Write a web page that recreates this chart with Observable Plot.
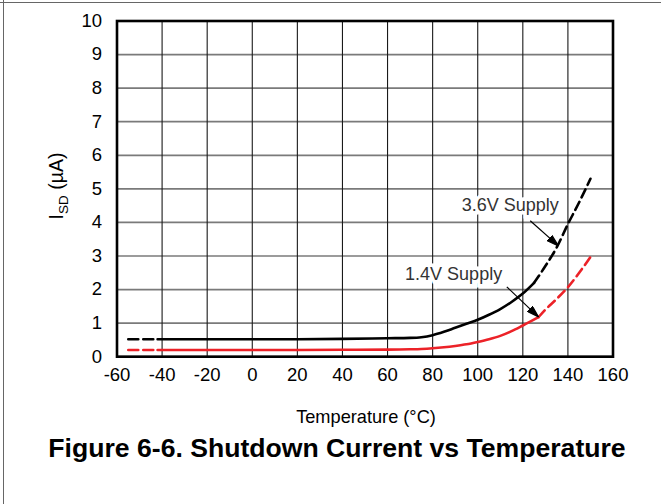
<!DOCTYPE html>
<html>
<head>
<meta charset="utf-8">
<script src="https://cdn.jsdelivr.net/npm/d3@7"></script>
<script src="https://cdn.jsdelivr.net/npm/@observablehq/plot@0.6"></script>
<style>
  html, body { margin: 0; padding: 0; background: #fff; }
  #wrap { position: relative; width: 661px; height: 504px; overflow: hidden; background: #fff; }
  #frameTop { position: absolute; left: 0; top: 2px; width: 661px; height: 0; border-top: 1.6px solid #666; }
  #frameLeft { position: absolute; left: 3px; top: 0; width: 0; height: 504px; border-left: 1.6px solid #666; }
  #chart { position: absolute; left: 0; top: 0; }
  #title { position: absolute; left: 0; width: 674px; top: 433px; text-align: center;
           font: bold 26.6px "Liberation Sans", Arial, sans-serif; color: #000; white-space: nowrap; }
</style>
</head>
<body>
<div id="wrap">
  <div id="chart"></div>
  <div id="frameTop"></div>
  <div id="frameLeft"></div>
  <div id="title">Figure 6-6. Shutdown Current vs Temperature</div>
</div>
<script>
// ---- data ----
const xTicks = [-60, -40, -20, 0, 20, 40, 60, 80, 100, 120, 140, 160];
const yTicks = [0, 1, 2, 3, 4, 5, 6, 7, 8, 9, 10];

const tempLowDash = [-55, -42];
const v36LowDash = [0.52, 0.52];
const v14LowDash = [0.2, 0.2];

const tempSolid36 = [-42, -20, 0, 20, 40, 60, 70, 75, 80, 85, 90, 95, 100, 105, 110, 115, 120, 125];
const v36Solid = [0.52, 0.52, 0.52, 0.52, 0.53, 0.55, 0.56, 0.58, 0.64, 0.74, 0.86, 0.98, 1.1, 1.25, 1.42, 1.63, 1.88, 2.2];
const tempHighDash36 = [125, 130, 135, 140, 145, 150];
const v36HighDash = [2.2, 2.7, 3.25, 3.95, 4.6, 5.3];

const tempSolid14 = [-42, -20, 0, 20, 40, 60, 70, 75, 80, 85, 90, 95, 100, 105, 110, 115, 120, 127];
const v14Solid = [0.2, 0.2, 0.2, 0.2, 0.205, 0.21, 0.22, 0.23, 0.25, 0.28, 0.32, 0.37, 0.44, 0.52, 0.62, 0.76, 0.93, 1.18];
const tempHighDash14 = [127, 130, 135, 140, 145, 150];
const v14HighDash = [1.18, 1.4, 1.72, 2.07, 2.5, 2.97];

const noteText = ["3.6V Supply", "1.4V Supply"];
const noteX = [114.4, 89.3];
const noteY = [4.5, 2.47];
const arrowX1 = [123.3, 112.9];
const arrowY1 = [4.05, 2.08];
const arrowX2 = [135.8, 127];
const arrowY2 = [3.3, 1.18];

// ---- build tables ----
const zipXY = (xs, ys) => xs.map((x, i) => ({x, y: ys[i]}));
const notes = noteText.map((t, i) => ({t, x: noteX[i], y: noteY[i]}));
const arrows = arrowX1.map((x1, i) => ({x1, y1: arrowY1[i], x2: arrowX2[i], y2: arrowY2[i]}));

const BLACK = "#000";
const RED = "#ec2228";
const FONT = '"Liberation Sans", Arial, sans-serif';

function filledArrow(color, context) {
  const ns = "http://www.w3.org/2000/svg";
  const m = document.createElementNS(ns, "marker");
  m.setAttribute("viewBox", "-6 -4 12 8");
  m.setAttribute("markerUnits", "userSpaceOnUse");
  m.setAttribute("markerWidth", 12);
  m.setAttribute("markerHeight", 8);
  m.setAttribute("refX", 6);
  m.setAttribute("refY", 0);
  m.setAttribute("orient", "auto");
  const p = document.createElementNS(ns, "path");
  p.setAttribute("d", "M-6,-3.6L6,0L-6,3.6Z");
  p.setAttribute("fill", color);
  m.appendChild(p);
  return m;
}

function build(marker) {
  return Plot.plot({
    width: 661,
    height: 430,
    marginLeft: 116.5,
    marginRight: 48.5,
    marginTop: 20.5,
    marginBottom: 430 - 356.2,
    style: { fontFamily: FONT, fontSize: "18px", color: "#000", background: "transparent" },
    x: { domain: [-60, 160], label: null },
    y: { domain: [0, 10], label: null },
    marks: [
      Plot.gridY(yTicks, { stroke: "#7a7a7a", strokeOpacity: 1, strokeWidth: 1.7 }),
      Plot.gridX(xTicks, { stroke: "#1a1a1a", strokeOpacity: 1, strokeWidth: 1.1 }),
      Plot.axisX(xTicks, { tickSize: 0, tickPadding: 11, fontSize: 18.5, fill: "#000", tickFormat: d => String(d), label: null }),
      Plot.axisY(yTicks, { tickSize: 0, tickPadding: 15, fontSize: 18.5, fill: "#000", tickFormat: d => String(d), label: null }),
      // 3.6V
      Plot.line(zipXY(tempLowDash, v36LowDash), { x: "x", y: "y", stroke: BLACK, strokeWidth: 2.6, strokeDasharray: "10,5" }),
      Plot.line(zipXY(tempSolid36, v36Solid), { x: "x", y: "y", stroke: BLACK, strokeWidth: 2.6, curve: "monotone-x" }),
      Plot.line(zipXY(tempHighDash36, v36HighDash), { x: "x", y: "y", stroke: BLACK, strokeWidth: 2.6, strokeDasharray: "9,5", curve: "monotone-x" }),
      // 1.4V
      Plot.line(zipXY(tempLowDash, v14LowDash), { x: "x", y: "y", stroke: RED, strokeWidth: 2.6, strokeDasharray: "10,5" }),
      Plot.line(zipXY(tempSolid14, v14Solid), { x: "x", y: "y", stroke: RED, strokeWidth: 2.6, curve: "monotone-x" }),
      Plot.line(zipXY(tempHighDash14, v14HighDash), { x: "x", y: "y", stroke: RED, strokeWidth: 2.6, strokeDasharray: "9,5", curve: "monotone-x" }),
      // annotations
      Plot.link(arrows, { x1: "x1", y1: "y1", x2: "x2", y2: "y2", stroke: "#000", strokeWidth: 1.2, markerEnd: marker }),
      Plot.text(notes, { x: "x", y: "y", text: "t", fill: "#333", fontSize: 18, stroke: "white", strokeWidth: 7, strokeLinejoin: "miter" }),
      Plot.frame({ stroke: "#000", strokeWidth: 2.6 })
    ]
  });
}

let chart;
try { chart = build(filledArrow); } catch (e) { chart = build("arrow"); }
document.getElementById("chart").appendChild(chart);

const svg = d3.select(chart);
// y-axis label with subscript
const yl = svg.append("text")
  .attr("transform", "translate(63,186) rotate(-90)")
  .attr("text-anchor", "middle")
  .attr("font-size", 19.5)
  .attr("fill", "#000");
yl.append("tspan").text("I");
yl.append("tspan").attr("font-size", 13.5).attr("dy", 4.5).text("SD");
yl.append("tspan").attr("dy", -4.5).text(" (µA)");
// x-axis label
svg.append("text")
  .attr("x", 366).attr("y", 422.5)
  .attr("text-anchor", "middle")
  .attr("font-size", 18.2)
  .attr("fill", "#000")
  .text("Temperature (°C)");
</script>
</body>
</html>
